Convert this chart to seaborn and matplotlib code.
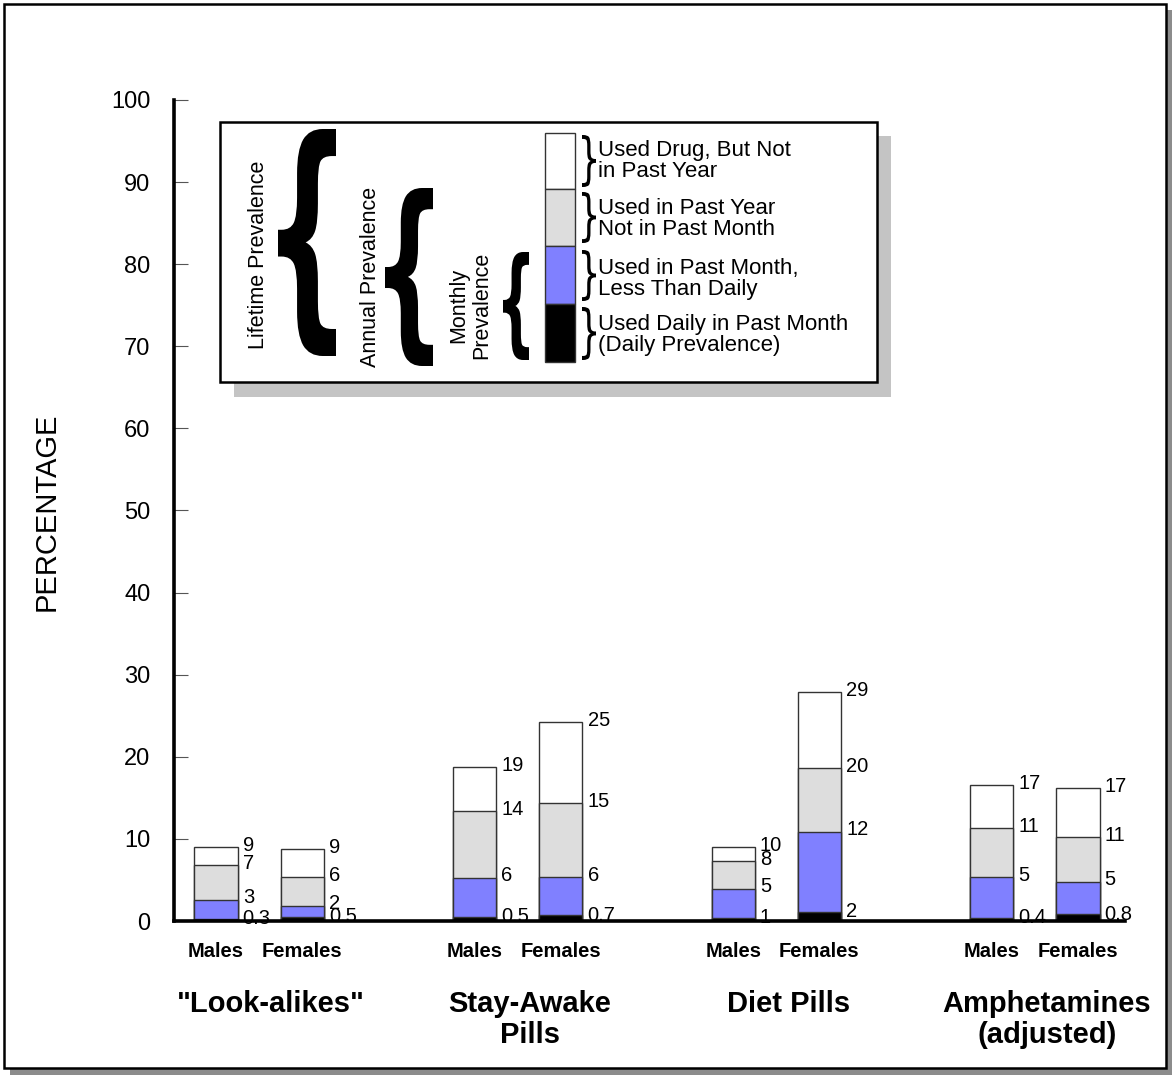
import numpy as np
import pandas as pd
import seaborn as sns
import matplotlib
matplotlib.use("Agg")
import matplotlib.pyplot as plt
from matplotlib.patches import Rectangle, PathPatch
from matplotlib.textpath import TextPath
from matplotlib.font_manager import FontProperties
from matplotlib.transforms import Affine2D, blended_transform_factory

# ---------------- data ----------------
drugs = ['"Look-alikes"', "Stay-Awake\nPills", "Diet Pills", "Amphetamines\n(adjusted)"]
sexes = ["Males", "Females", "Males", "Females", "Males", "Females", "Males", "Females"]
# cumulative segment tops (percent)
lifetime = [9.0, 8.8, 18.7, 24.2, 9.0, 27.9, 16.6, 16.2]
annual = [6.8, 5.4, 13.4, 14.4, 7.3, 18.6, 11.3, 10.2]
monthly = [2.6, 1.8, 5.2, 5.3, 3.9, 10.9, 5.3, 4.7]
daily = [0.3, 0.5, 0.5, 0.7, 0.4, 1.1, 0.4, 0.8]
lifetime_lbl = ["9", "9", "19", "25", "10", "29", "17", "17"]
annual_lbl = ["7", "6", "14", "15", "8", "20", "11", "11"]
monthly_lbl = ["3", "2", "6", "6", "5", "12", "5", "5"]
daily_lbl = ["0.3", "0.5", "0.5", "0.7", "1", "2", "0.4", "0.8"]
yticks = [0, 10, 20, 30, 40, 50, 60, 70, 80, 90, 100]

legend_texts = ["Used Drug, But Not\nin Past Year",
                "Used in Past Year\nNot in Past Month",
                "Used in Past Month,\nLess Than Daily",
                "Used Daily in Past Month\n(Daily Prevalence)"]

# layout positions (slot index along x)
pos = [0, 1, 3, 4, 6, 7, 9, 10]
group_centers = [0.5, 3.5, 6.5, 9.5]

C_WHITE, C_GRAY, C_BLUE, C_BLACK = "white", "#DDDDDD", "#8080FF", "black"
EDGE = "#333333"

sns.set_theme(style="white")
plt.rcParams["font.family"] = ["Liberation Sans", "DejaVu Sans"]
plt.rcParams["text.color"] = "black"
plt.rcParams["axes.labelcolor"] = "black"
plt.rcParams["xtick.color"] = "black"
plt.rcParams["ytick.color"] = "black"

W, H = 1175, 1078
fig = plt.figure(figsize=(W / 100, H / 100), dpi=100)
fig.patch.set_facecolor("white")


def fx(x):
    return x / W


def fy(y):
    return 1 - y / H


def frect(x0, y0, x1, y1, **kw):
    r = Rectangle((fx(x0), fy(y1)), fx(x1) - fx(x0), fy(y0) - fy(y1),
                  transform=fig.transFigure, **kw)
    fig.add_artist(r)
    return r


# outer frame with shadow (behind the axes)
frect(10, 10, 1172, 1075, facecolor="#8C8C8C", edgecolor="none", zorder=-3)
frect(4, 4, 1166, 1068, facecolor="white", edgecolor="black", linewidth=1.8, zorder=-2)

# ---------------- axes ----------------
ax = fig.add_axes([fx(174), fy(921), fx(1125) - fx(174), fy(100) - fy(921)])
ax.set_zorder(1)
ax.set_facecolor("none")
ax.patch.set_alpha(0)

df = pd.DataFrame({"pos": pos, "lifetime": lifetime, "annual": annual,
                   "monthly": monthly, "daily": daily})
for col, color in [("lifetime", C_WHITE), ("annual", C_GRAY),
                   ("monthly", C_BLUE), ("daily", C_BLACK)]:
    sns.barplot(data=df, x="pos", y=col, native_scale=True, width=0.5,
                color=color, saturation=1, edgecolor=EDGE, linewidth=1.0,
                errorbar=None, ax=ax)

ax.set_xlim((174 - 216) / 86.2, (1125 - 216) / 86.2)
ax.set_ylim(0, 100)
ax.set_ylabel("")
ax.set_xlabel("")

# value labels
for vals, lbls, dy in [(lifetime, lifetime_lbl, 0.2), (annual, annual_lbl, 0.2),
                       (monthly, monthly_lbl, 0.3), (daily, daily_lbl, 0.0)]:
    for p, v, t in zip(pos, vals, lbls):
        ax.text(p + 0.31, v + dy, t, ha="left", va="center", fontsize=14.5,
                color="black", zorder=3, clip_on=False)

# axes styling
for s in ["top", "right"]:
    ax.spines[s].set_visible(False)
for s in ["left", "bottom"]:
    ax.spines[s].set_visible(True)
    ax.spines[s].set_color("black")
    ax.spines[s].set_linewidth(2.6)
ax.spines["bottom"].set_zorder(10)
ax.spines["left"].set_zorder(10)

ax.set_yticks(yticks)
ax.set_yticklabels([str(t) for t in yticks], fontsize=17)
ax.tick_params(axis="y", direction="in", length=10, width=0.8, color="#555555",
               pad=17, left=True, labelcolor="black")
ax.set_xticks(pos)
ax.set_xticklabels(sexes, fontsize=14.5, fontweight="bold")
ax.tick_params(axis="x", length=0, pad=15, labelcolor="black")
ax.grid(False)

# group titles
trans = blended_transform_factory(ax.transData, fig.transFigure)
for gc, name in zip(group_centers, drugs):
    ax.text(gc + 0.14, fy(990), name, transform=trans, ha="center", va="top",
            fontsize=21, fontweight="bold", linespacing=1.12, clip_on=False)

# y label
fig.text(fx(47), fy(512), "PERCENTAGE", rotation=90, ha="center", va="center",
         fontsize=21)

# ---------------- legend box ----------------
frect(234, 136, 891, 397, facecolor="#C4C4C4", edgecolor="none", zorder=20)
frect(220, 122, 877, 382, facecolor="white", edgecolor="black", linewidth=1.8, zorder=21)


def brace(ch, x0, y0, x1, y1, weight, family="DejaVu Sans"):
    tp = TextPath((0, 0), ch, size=100, prop=FontProperties(family=family, weight=weight))
    ext = tp.get_extents()
    sx = (fx(x1) - fx(x0)) / ext.width
    sy = (fy(y0) - fy(y1)) / ext.height
    tr = Affine2D().translate(-ext.x0, -ext.y0).scale(sx, sy).translate(fx(x0), fy(y1))
    path = tr.transform_path(tp)
    fig.add_artist(PathPatch(path, transform=fig.transFigure, facecolor="black",
                             edgecolor="none", zorder=22))


brace("{", 278, 129, 336, 356, "bold")
brace("{", 385, 188, 433, 366, "bold")
brace("{", 503, 252, 529, 360, "bold")

fig.text(fx(258), fy(255), "Lifetime Prevalence", rotation=90, ha="center",
         va="center", fontsize=15.5, zorder=22)
fig.text(fx(371), fy(277), "Annual Prevalence", rotation=90, ha="center",
         va="center", fontsize=15.5, zorder=22)
fig.text(fx(470), fy(305), "Monthly\nPrevalence", rotation=90, ha="center",
         va="center", fontsize=15.5, linespacing=1.1, zorder=22)

# legend key bar
seg_edges = [133, 189, 246, 304, 362]
seg_colors = [C_WHITE, C_GRAY, C_BLUE, C_BLACK]
for i, c in enumerate(seg_colors):
    frect(545, seg_edges[i], 575, seg_edges[i + 1], facecolor=c, edgecolor=EDGE,
          linewidth=1.0, zorder=22)

small = [(135, 187), (192, 243), (250, 301), (307, 360)]
centers = [161, 219, 279, 335]
for (a, b), cy, txt in zip(small, centers, legend_texts):
    brace("}", 582, a, 596, b, "normal")
    fig.text(fx(598), fy(cy), txt, ha="left", va="center", fontsize=16,
             linespacing=1.05, zorder=22)

fig.savefig("out.png", dpi=100)
